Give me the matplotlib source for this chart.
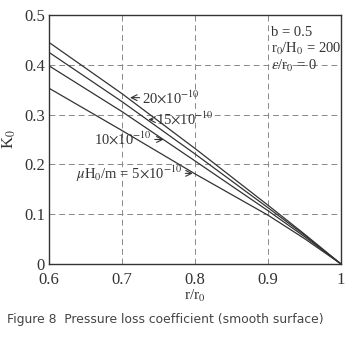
import numpy as np
import matplotlib.pyplot as plt

# r/r0 sample points and K0 curves for each muH0/m value
r_ratio = [0.6, 0.7, 0.8, 0.9, 0.95, 1.0]
k_20 = [0.445, 0.342, 0.232, 0.118, 0.060, 0.0]
k_15 = [0.425, 0.326, 0.221, 0.113, 0.058, 0.0]
k_10 = [0.398, 0.306, 0.207, 0.107, 0.055, 0.0]
k_5 = [0.353, 0.268, 0.181, 0.098, 0.051, 0.0]

xticks = [0.6, 0.7, 0.8, 0.9, 1.0]
xticklabels = ['0.6', '0.7', '0.8', '0.9', '1']
yticks = [0, 0.1, 0.2, 0.3, 0.4, 0.5]
yticklabels = ['0', '0.1', '0.2', '0.3', '0.4', '0.5']

plt.rcParams['font.family'] = ['Liberation Serif', 'DejaVu Serif']
plt.rcParams['mathtext.fontset'] = 'stix'

fig = plt.figure(figsize=(3.56, 3.51), dpi=100)
ax = fig.add_axes([49 / 356, 1 - 264 / 351, 292 / 356, 249 / 351])

for k in (k_20, k_15, k_10, k_5):
    ax.plot(r_ratio, k, color='#333333', lw=0.9)

ax.set_xlim(0.6, 1.0)
ax.set_ylim(0, 0.5)
ax.set_xticks(xticks)
ax.set_xticklabels(xticklabels)
ax.set_yticks(yticks)
ax.set_yticklabels(yticklabels)
ax.tick_params(labelsize=12, length=0, colors='#333333')
ax.tick_params(axis='x', pad=6)
ax.tick_params(axis='y', pad=3)
ax.grid(True, ls=(0, (6, 4)), color='#888888', lw=0.7)
for s in ax.spines.values():
    s.set_color('#333333')
    s.set_linewidth(1.0)

ax.set_xlabel(r'r/r$_0$', fontsize=11, labelpad=0, color='#333333')
ax.set_ylabel(r'K$_0$', fontsize=12, labelpad=4, color='#333333')

arr = dict(arrowstyle='->', color='#333333', lw=0.8, shrinkA=0, shrinkB=0)
tkw = dict(fontsize=10.5, color='#333333', va='center')
ax.annotate(r'20$\times$10$^{-10}$', xy=(0.711, 0.334), xytext=(0.728, 0.334),
            ha='left', arrowprops=arr, **tkw)
ax.annotate(r'15$\times$10$^{-10}$', xy=(0.736, 0.290), xytext=(0.746, 0.290),
            ha='left', arrowprops=arr, **tkw)
ax.annotate(r'10$\times$10$^{-10}$', xy=(0.757, 0.250), xytext=(0.741, 0.250),
            ha='right', arrowprops=arr, **tkw)
ax.annotate(r'$\mu$H$_0$/m = 5$\times$10$^{-10}$', xy=(0.797, 0.182), xytext=(0.783, 0.182),
            ha='right', arrowprops=arr, **tkw)

ax.text(0.904, 0.465, 'b = 0.5', fontsize=10.5, color='#333333', va='center')
ax.text(0.904, 0.432, r'r$_0$/H$_0$ = 200', fontsize=10.5, color='#333333', va='center')
ax.text(0.904, 0.398, r'$\varepsilon$/r$_0$ = 0', fontsize=10.5, color='#333333', va='center')

fig.text(7 / 356, 1 - 320 / 351, 'Figure 8  Pressure loss coefficient (smooth surface)',
         family='DejaVu Sans', fontsize=8.9, color='#444444', va='center')

fig.savefig('out.png', dpi=100)
